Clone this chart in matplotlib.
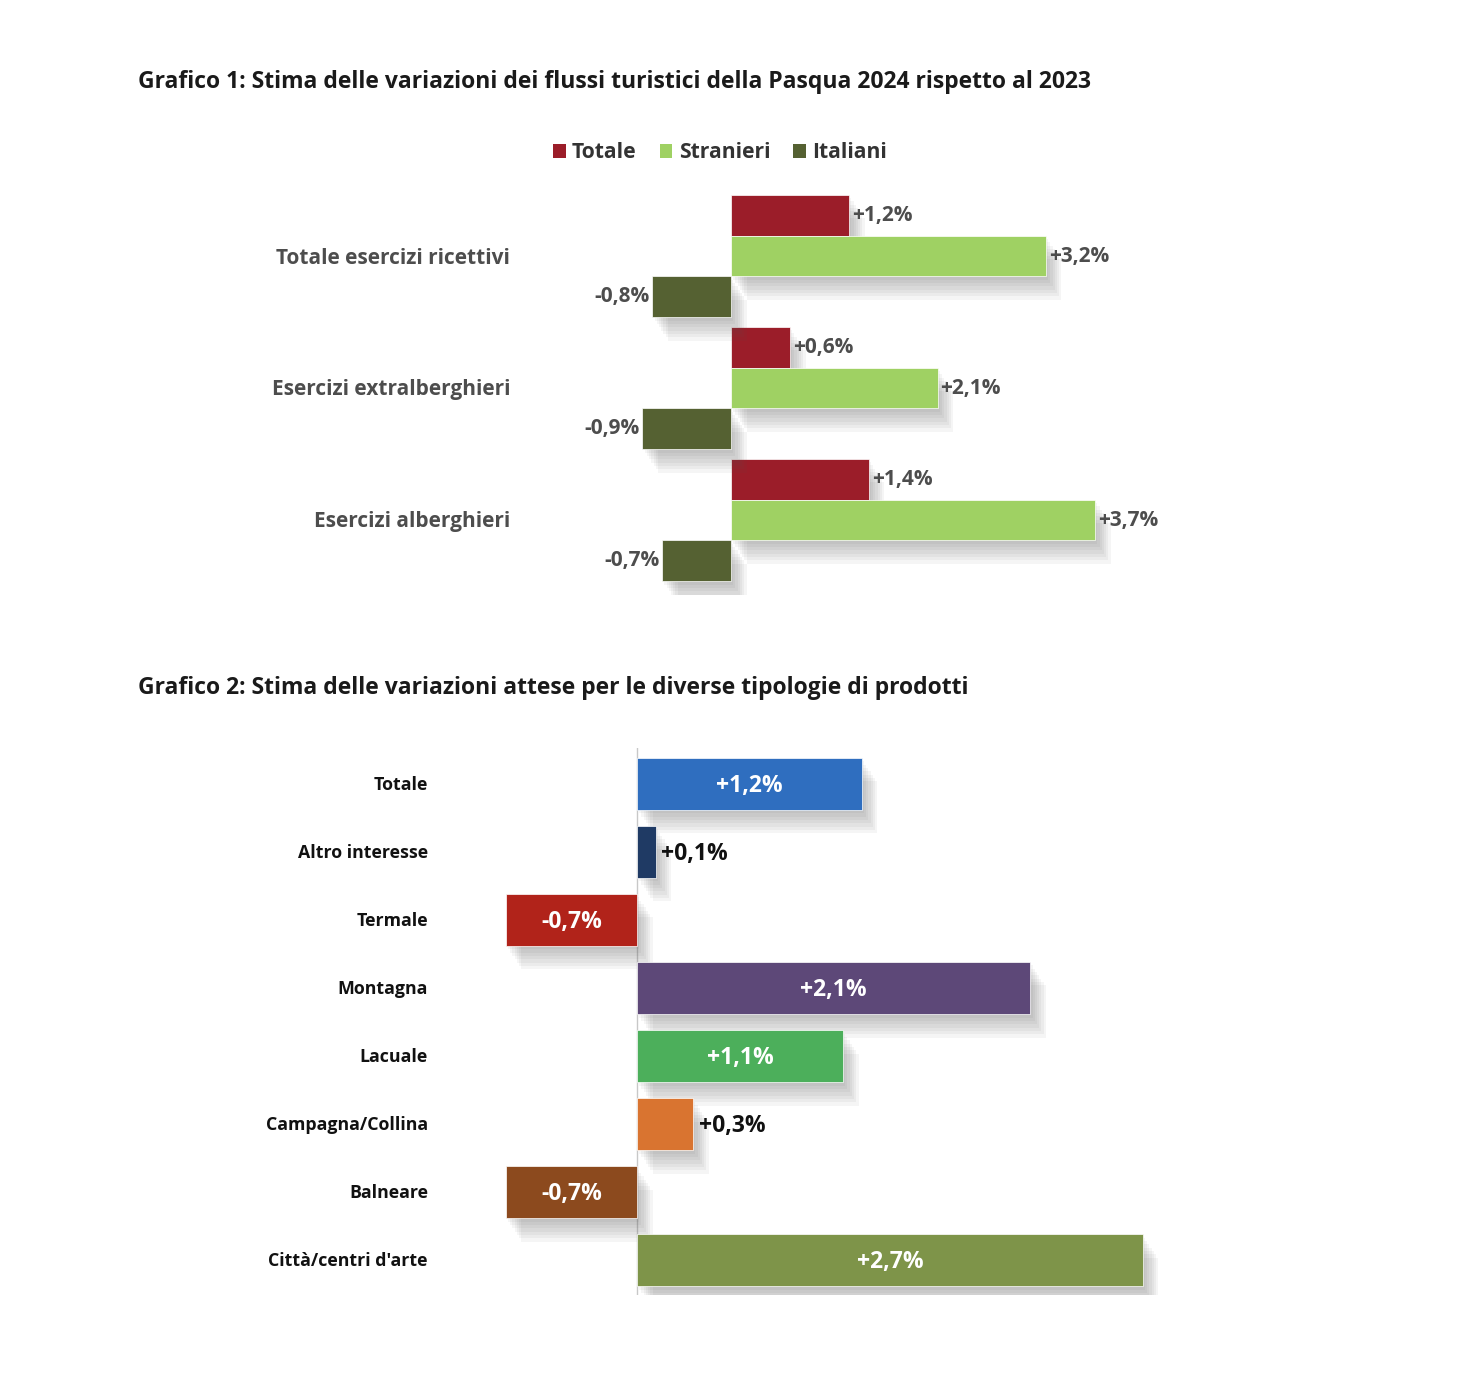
import numpy as np
import matplotlib.pyplot as plt
import matplotlib.patheffects as pe
from matplotlib.patches import Patch

plt.rcParams['font.family'] = ['Open Sans', 'DejaVu Sans']
plt.rcParams['font.weight'] = 'bold'

#----- dati grafico 1
cat1 = ['Totale esercizi ricettivi', 'Esercizi extralberghieri', 'Esercizi alberghieri']
series1 = ['Totale', 'Stranieri', 'Italiani']
totale = [1.2, 0.6, 1.4]
stranieri = [3.2, 2.1, 3.7]
italiani = [-0.8, -0.9, -0.7]
colors1 = ['#9B1D29', '#9FD163', '#556132']

#----- dati grafico 2
cat2 = ['Totale', 'Altro interesse', 'Termale', 'Montagna', 'Lacuale',
        'Campagna/Collina', 'Balneare', "Città/centri d'arte"]
val2 = [1.2, 0.1, -0.7, 2.1, 1.1, 0.3, -0.7, 2.7]
colors2 = ['#2F6EBF', '#1F3A64', '#B1231A', '#5D4878', '#4CAF5B',
           '#D97430', '#8C4A1E', '#7E9449']

W, H = 1478, 1382
fig = plt.figure(figsize=(W / 100, H / 100), dpi=100)
fig.patch.set_facecolor('white')

def rect(l, t, r, b):
    return [l / W, 1 - b / H, (r - l) / W, (b - t) / H]

def fmt(v):
    return ('+' if v > 0 else '') + ('%.1f' % v).replace('.', ',') + '%'

# ombra sfumata: piu' strati leggeri
shadow = [pe.SimplePatchShadow(offset=(k * 1.6, -k * 2.4), shadow_rgbFace='#555555', alpha=0.06)
          for k in range(1, 8)] + [pe.Normal()]

#----- titoli
fig.text(138 / W, 1 - 82 / H, 'Grafico 1: Stima delle variazioni dei flussi turistici della Pasqua 2024 rispetto al 2023',
         fontsize=16.5, color='#1a1a1a', va='center', ha='left')
fig.text(138 / W, 1 - 688 / H, 'Grafico 2: Stima delle variazioni attese per le diverse tipologie di prodotti',
         fontsize=16.5, color='#1a1a1a', va='center', ha='left')

#----- grafico 1
ax1 = fig.add_axes(rect(553.9, 185, 1203.3, 595))
y = np.arange(len(cat1))
h = 0.31
for k, (vals, c) in enumerate(zip([totale, stranieri, italiani], colors1)):
    yy = y + (k - 1) * h
    bars = ax1.barh(yy, vals, height=h, color=c, edgecolor='white', linewidth=0.5)
    for b in bars:
        b.set_path_effects(shadow)
    for yi, v in zip(yy, vals):
        ax1.text(v + (0.03 if v > 0 else -0.03), yi, fmt(v), ha='left' if v > 0 else 'right',
                 va='center', fontsize=15, color='#4d4d4d')
for yi, c in zip(y, cat1):
    fig.text(510 / W, 1 - (258 + 132 * yi) / H, c, ha='right', va='center', fontsize=15, color='#4d4d4d')
ax1.set_xlim(-1.8, 4.8)
ax1.set_ylim(2.568, -0.538)
ax1.axis('off')

handles = [Patch(facecolor=c, label=s) for s, c in zip(series1, colors1)]
fig.legend(handles=handles, loc='center', bbox_to_anchor=(720 / W, 1 - 153 / H), ncol=3, frameon=False,
           fontsize=15.2, handlelength=0.6, handleheight=0.6, handletextpad=0.3, columnspacing=1.1,
           labelcolor='#333333')

#----- grafico 2
ax2 = fig.add_axes(rect(449.6, 748, 1199.0, 1295))
y2 = np.arange(len(cat2))
bars = ax2.barh(y2, val2, height=0.765, color=colors2, edgecolor='white', linewidth=0.5, zorder=2)
for b in bars:
    b.set_path_effects(shadow)
ax2.axvline(0, color='#c8c8c8', lw=1, zorder=1)
for yi, v in zip(y2, val2):
    if abs(v) >= 0.5:
        ax2.text(v / 2, yi + 0.03, fmt(v), ha='center', va='center', fontsize=16.5, color='white', zorder=3)
    else:
        ax2.text(v + 0.03, yi + 0.03, fmt(v), ha='left', va='center', fontsize=16.5, color='#111111', zorder=3)
for yi, c in zip(y2, cat2):
    fig.text(428 / W, 1 - (785 + 68 * yi) / H, c, ha='right', va='center', fontsize=12.8, color='#111111')
ax2.set_xlim(-1.0, 3.0)
ax2.set_ylim(7.51, -0.53)
ax2.axis('off')

plt.savefig('out.png', dpi=100, facecolor='white')
